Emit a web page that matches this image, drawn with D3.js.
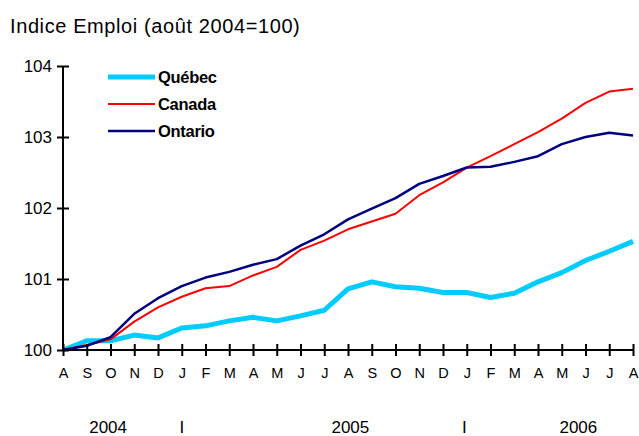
<!DOCTYPE html>
<html>
<head>
<meta charset="utf-8">
<script src="https://cdn.jsdelivr.net/npm/d3@7"></script>
<style>
  body { margin: 0; background: #fff; }
  text { font-family: 'Liberation Sans', Arial, sans-serif; fill: #000; }
</style>
</head>
<body>
<div id="viz"></div>
<script>
  // months from Aug 2004 to Aug 2006
  var months = ["A","S","O","N","D","J","F","M","A","M","J","J","A","S","O","N","D","J","F","M","A","M","J","J","A"];
  var quebec = [100, 100.13, 100.13, 100.21, 100.17, 100.31, 100.34, 100.41, 100.46, 100.41, 100.48, 100.56,
                100.86, 100.96, 100.89, 100.87, 100.81, 100.81, 100.74, 100.80, 100.96, 101.09, 101.26, 101.39, 101.53];
  var canada = [100, 100.07, 100.15, 100.40, 100.60, 100.75, 100.87, 100.90, 101.05, 101.17, 101.41, 101.54,
                101.70, 101.81, 101.92, 102.18, 102.36, 102.57, 102.73, 102.90, 103.07, 103.26, 103.48, 103.64, 103.68];
  var ontario = [100, 100.06, 100.18, 100.51, 100.73, 100.90, 101.02, 101.10, 101.20, 101.28, 101.47, 101.63,
                 101.84, 101.99, 102.14, 102.34, 102.45, 102.57, 102.58, 102.65, 102.73, 102.90, 103.00, 103.06, 103.02];
  var yTicks = [100, 101, 102, 103, 104];
  var years = [{label: "2004", at: 1.9}, {label: "I", at: 5.0}, {label: "2005", at: 12.1}, {label: "I", at: 16.9}, {label: "2006", at: 21.7}];

  var series = [
    {name: "Québec", values: quebec, color: "#00ccff", width: 5},
    {name: "Canada", values: canada, color: "#ff0000", width: 2},
    {name: "Ontario", values: ontario, color: "#000080", width: 2.5}
  ];

  var width = 639, height = 436;

  var svg = d3.select("#viz").append("svg")
    .attr("width", width)
    .attr("height", height);

  var x = d3.scaleLinear().domain([0, months.length - 1]).range([63, 633]);
  var y = d3.scaleLinear().domain([100, 104]).range([350, 66]);

  // title
  svg.append("text")
    .attr("x", 10)
    .attr("y", 33)
    .style("font-size", "20px")
    .style("letter-spacing", "0.6px")
    .text("Indice Emploi (août 2004=100)");

  // lines (drawn before axes so axis sits on top)
  var line = d3.line()
    .x(function(d, i) { return x(i); })
    .y(function(d) { return y(d); });

  series.forEach(function(s) {
    svg.append("path")
      .datum(s.values)
      .attr("fill", "none")
      .attr("stroke", s.color)
      .attr("stroke-width", s.width)
      .attr("stroke-linejoin", "round")
      .attr("d", line);
  });

  // y axis
  var yAxis = svg.append("g")
    .attr("transform", "translate(" + x(0) + ",0)")
    .call(d3.axisLeft(y).tickValues(yTicks).tickSize(6).tickFormat(d3.format("d")));
  yAxis.selectAll(".tick line").attr("x2", 6).attr("x1", -6).attr("stroke-width", 2);
  yAxis.select(".domain").attr("stroke-width", 2).attr("d", "M0," + y(104) + "V" + y(100));
  yAxis.selectAll("text").style("font-size", "17px").attr("x", -11);

  // x axis
  var xAxis = svg.append("g")
    .attr("transform", "translate(0," + y(100) + ")")
    .call(d3.axisBottom(x).tickValues(d3.range(months.length)).tickSize(6)
      .tickFormat(function(i) { return months[i]; }));
  xAxis.selectAll(".tick line").attr("y1", -6).attr("y2", 6).attr("stroke-width", 2);
  xAxis.select(".domain").attr("stroke-width", 2).attr("d", "M" + x(0) + ",0H" + x(months.length - 1));
  xAxis.selectAll("text").style("font-size", "14.5px").attr("y", 18);

  // year labels
  svg.selectAll(".year")
    .data(years)
    .enter().append("text")
    .attr("class", "year")
    .attr("x", function(d) { return x(d.at); })
    .attr("y", 433)
    .attr("text-anchor", "middle")
    .style("font-size", "17px")
    .text(function(d) { return d.label; });

  // legend
  var legend = svg.selectAll(".legend")
    .data(series)
    .enter().append("g")
    .attr("class", "legend")
    .attr("transform", function(d, i) { return "translate(108," + (77 + i * 27) + ")"; });
  legend.append("line")
    .attr("x1", 0).attr("x2", 47)
    .attr("stroke", function(d) { return d.color; })
    .attr("stroke-width", function(d) { return d.width; });
  legend.append("text")
    .attr("x", 50)
    .attr("dy", "0.36em")
    .style("font-size", "16.5px")
    .style("font-weight", "bold")
    .style("letter-spacing", "-0.3px")
    .text(function(d) { return d.name; });
</script>
</body>
</html>
